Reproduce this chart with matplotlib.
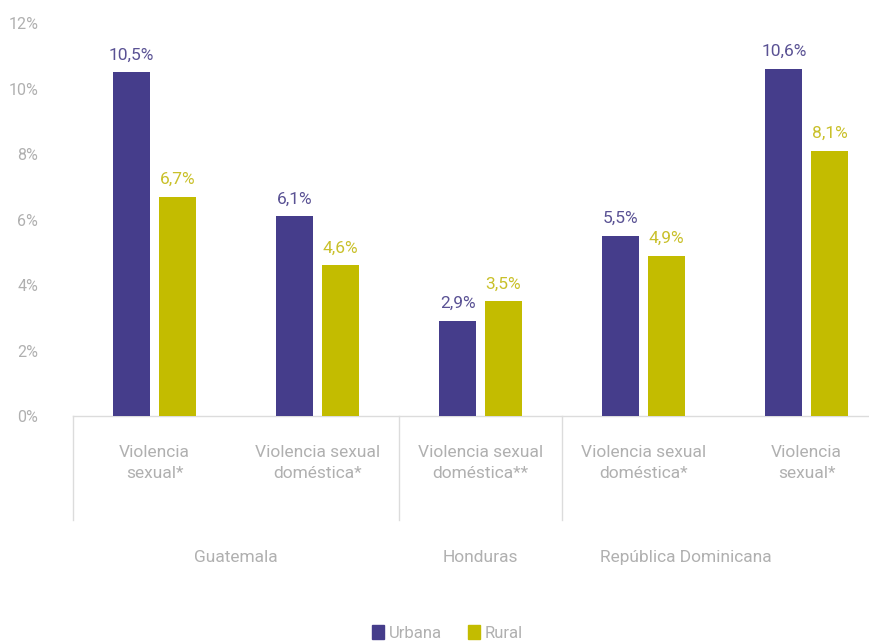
import matplotlib
matplotlib.use("Agg")
import matplotlib.pyplot as plt
import matplotlib.transforms as mtransforms
from matplotlib.patches import Patch
import numpy as np

plt.rcParams['font.family'] = ['Roboto', 'DejaVu Sans']

categories = ["Violencia\nsexual*", "Violencia sexual\ndoméstica*", "Violencia sexual\ndoméstica**",
              "Violencia sexual\ndoméstica*", "Violencia\nsexual*"]
urbana = [10.5, 6.1, 2.9, 5.5, 10.6]
rural = [6.7, 4.6, 3.5, 4.9, 8.1]
countries = ["Guatemala", "Honduras", "República Dominicana"]
country_pos = [0.5, 2.0, 3.26]
separators = [-0.5, 1.5, 2.5]
yticks = [0, 2, 4, 6, 8, 10, 12]

c_urb = "#453d8b"
c_rur = "#c3bc00"
c_urb_txt = "#5a5294"
c_rur_txt = "#c9c02a"
gray = "#b0b0b0"
fw = "normal"

fig = plt.figure(figsize=(8.69, 6.43), dpi=100)
ax = fig.add_axes([0.084, 0.353, 0.938, 0.611])

x = np.arange(len(categories))
w = 0.228
off = 0.14
ax.bar(x - off, urbana, w, color=c_urb, zorder=3)
ax.bar(x + off, rural, w, color=c_rur, zorder=3)

for xi, u, r in zip(x, urbana, rural):
    ax.text(xi - off, u + 0.3, f"{u:.1f}%".replace(".", ","), ha="center", va="bottom",
            color=c_urb_txt, fontsize=12.5, fontweight=fw)
    ax.text(xi + off, r + 0.3, f"{r:.1f}%".replace(".", ","), ha="center", va="bottom",
            color=c_rur_txt, fontsize=12.5, fontweight=fw)

ax.set_xlim(-0.5, 4.5)
ax.set_ylim(0, 12)
ax.set_yticks(yticks)
ax.set_yticklabels([f"{t}%" for t in yticks], color=gray, fontsize=11.5, fontweight=fw)
ax.tick_params(axis="y", length=0, pad=25)
ax.set_xticks([])
for s in ["top", "right", "left"]:
    ax.spines[s].set_visible(False)
ax.spines["bottom"].set_color("#dcdcdc")
ax.spines["bottom"].set_linewidth(1.0)

trans = mtransforms.blended_transform_factory(ax.transData, ax.transAxes)
for sx in separators:
    ax.plot([sx, sx], [0, -0.265], transform=trans, color="#dcdcdc", lw=1.0, clip_on=False)

for xi, lab in zip(x, categories):
    ax.text(xi, -0.12, lab, transform=trans, ha="center", va="center", color=gray,
            fontsize=12.5, linespacing=1.55, fontweight=fw)

for cp, name in zip(country_pos, countries):
    ax.text(cp, -0.36, name, transform=trans, ha="center", va="center", color=gray,
            fontsize=12.5, fontweight=fw)

handles = [Patch(color=c_urb, label="Urbana"), Patch(color=c_rur, label="Rural")]
leg = fig.legend(handles=handles, loc="center", bbox_to_anchor=(0.515, 0.016), ncol=2, frameon=False,
                 prop={"size": 12, "weight": fw}, handlelength=0.7, handleheight=0.9,
                 handletextpad=0.3, columnspacing=1.6)
for t in leg.get_texts():
    t.set_color(gray)

fig.savefig("out.png", dpi=100, facecolor="white")
